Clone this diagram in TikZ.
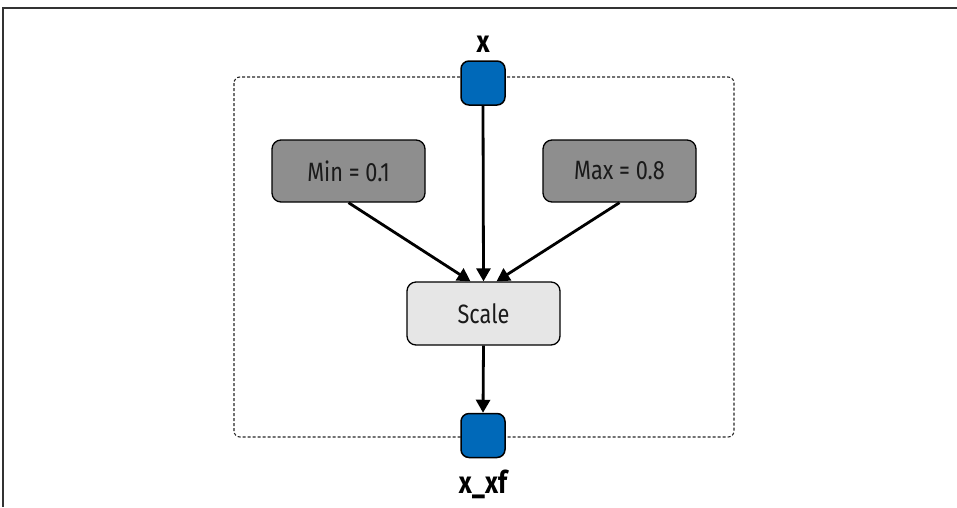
\documentclass[tikz,border=0pt]{standalone}
\usepackage{fontspec}
\setmainfont{Fira Sans}
\newfontfamily\condfont[FakeStretch=0.82]{Fira Sans}
\usetikzlibrary{arrows.meta}
\definecolor{portblue}{HTML}{0069B9}
\definecolor{paramgray}{HTML}{8E8E8E}
\definecolor{opgray}{HTML}{E6E6E6}
\definecolor{framegray}{HTML}{333333}
\definecolor{inkdark}{HTML}{1A1A1A}
\tikzset{
  port/.style={draw=black, line width=1.5pt, fill=portblue, rounded corners=8pt,
    minimum width=44pt, minimum height=44pt, inner sep=0pt},
  param/.style={draw=black, line width=1.3pt, fill=paramgray, rounded corners=9pt,
    minimum width=153pt, minimum height=62pt, inner sep=0pt, text=inkdark,
    font=\condfont\fontsize{26.5}{28}\selectfont},
  op/.style={draw=black, line width=1.3pt, fill=opgray, rounded corners=9pt,
    minimum width=153pt, minimum height=63pt, inner sep=0pt, text=inkdark,
    font=\condfont\fontsize{26.5}{28}\selectfont},
  portlabel/.style={font=\condfont\bfseries\fontsize{31}{33}\selectfont, inner sep=0pt},
  flow/.style={line width=2.8pt, -{Triangle[length=13pt,width=14pt]}},
}
\begin{document}
\begin{tikzpicture}[x=1pt,y=-1pt]
  \useasboundingbox (0,0) rectangle (957,507);
  % outer frame (top and left edges)
  \draw[framegray, line width=2pt] (957,8) -- (3,8) -- (3,507);
  % dashed group boundary
  \draw[black!85, line width=1.1pt, dash pattern=on 3pt off 2pt, rounded corners=6pt]
    (234,77) rectangle (734,437);
  % nodes
  \node[port] (in) at (483,83) {};
  \node[portlabel, anchor=base] (inlbl) at (483,52) {x};
  \node[param] (min) at (348.5,171) {Min = 0.1};
  \node[param] (max) at (619.5,171) {Max = 0.8};
  \node[op] (scale) at (483.5,313.5) {Scale};
  \node[port] (out) at (483,435.5) {};
  \node[portlabel, anchor=base] (outlbl) at (483,493) {x\_xf};
  % connectors
  \draw[flow] (in.south) -- (scale.north);
  \draw[flow] (min.south) -- ([xshift=-13pt]scale.north);
  \draw[flow] (max.south) -- ([xshift=13pt]scale.north);
  \draw[flow] (scale.south) -- (out.north);
\end{tikzpicture}
\end{document}
